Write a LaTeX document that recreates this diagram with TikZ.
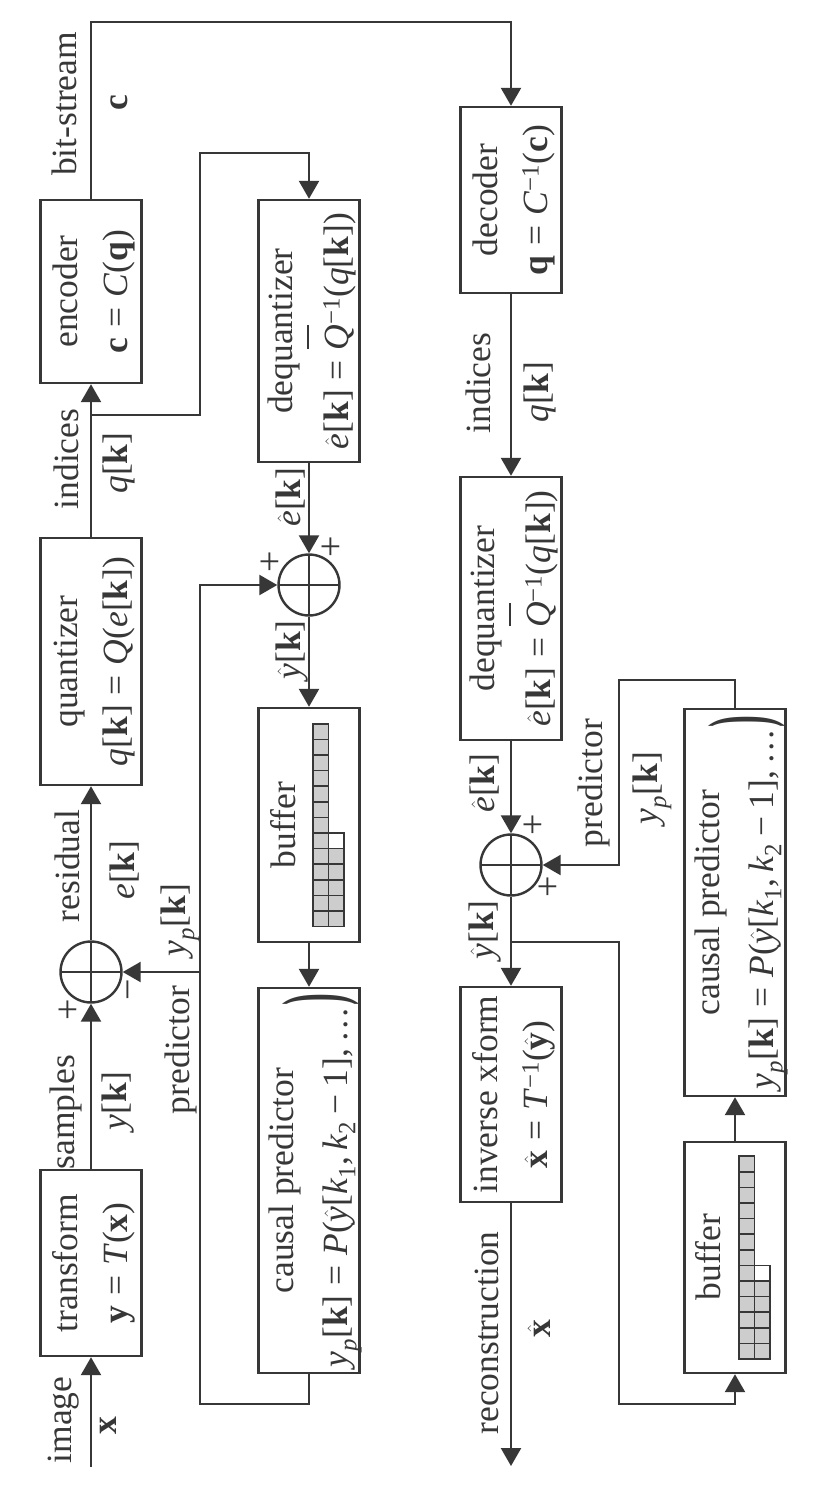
\documentclass[tikz,border=0pt]{standalone}
\usepackage{amsmath}
\usepackage{graphicx}
\usepackage[no-math]{fontspec}
\setmainfont{Liberation Serif}
\usetikzlibrary{arrows.meta}
\definecolor{ink}{RGB}{55,55,55}
\definecolor{cellgray}{RGB}{205,205,205}
\newcommand{\bk}{\textbf{k}}
\newcommand{\hatit}[1]{\ensuremath{\hat{\text{\textit{#1}}}}}
\newcommand{\hatbf}[1]{\ensuremath{\hat{\text{\textbf{#1}}}}}
\newcommand{\yp}{\ensuremath{\text{\textit{y}}_{\text{\textit{p}}}}}
\newcommand{\ksub}[1]{\ensuremath{\text{\textit{k}}_{\text{#1}}}}
\newcommand{\eqs}{\hspace{0.28em}=\hspace{0.28em}}
\newcommand{\minv}{\textsuperscript{−1}}
\newcommand{\Qbar}{\rlap{\hspace{0.04em}\smash{\rule[1.12em]{0.66em}{0.06em}}}\textit{Q}}
\newcommand{\boxline}[1]{\rule[-0.2em]{0pt}{1.05em}\smash{#1}}
\newcommand{\bigclose}{\hspace{0.05em}\smash{\raisebox{0.16em}{\scalebox{1}[2.4]{\textbf{)}}}}}
\begin{document}
\begin{tikzpicture}[x=1pt,y=-1pt,
  every node/.style={text=ink, font=\fontsize{35.5}{50}\selectfont},
  wire/.style={draw=ink, line width=2.4pt},
  arr/.style={wire, -{Triangle[length=18pt,width=20pt]}},
  blk/.style={draw=ink, line width=2.4pt, rotate=90, inner sep=0pt, minimum height=101pt, align=center},
  lbl/.style={rotate=90, inner sep=0pt},
  sign/.style={rotate=90, inner sep=0pt, font=\fontsize{38}{38}\selectfont},
  sumnode/.style={draw=ink, line width=2.4pt, circle, minimum size=61pt, inner sep=0pt,
    path picture={\draw[ink, line width=2.4pt] (path picture bounding box.north) -- (path picture bounding box.south)
      (path picture bounding box.west) -- (path picture bounding box.east);}},
  cell/.style={fill=cellgray, draw=ink, line width=1.6pt},
  emptycell/.style={fill=white, draw=ink, line width=1.6pt}
]
\fill[white] (0,0) rectangle (820,1486);
\useasboundingbox (0,0) rectangle (820,1486);

% ---------- blocks ----------
\node[blk, minimum width=186pt] (trans) at (91,1263)
  {\boxline{transform}\\\boxline{\textbf{y}\eqs\textit{T}(\textbf{x})}};
\node[blk, minimum width=247pt] (quant) at (91,661.5)
  {\boxline{quantizer}\\\boxline{\textit{q}[\bk]\eqs\textit{Q}(\textit{e}[\bk])}};
\node[blk, minimum width=183pt] (enc) at (91,291.5)
  {\boxline{encoder}\\\boxline{\textbf{c}\eqs\textit{C}(\textbf{q})}};
\node[blk, minimum width=262pt] (deq1) at (309,331)
  {\boxline{dequantizer}\\[6pt]\boxline{\hatit{e}[\bk]\eqs\Qbar\minv(\textit{q}[\bk])}};
\node[blk, minimum width=234pt] (buf1) at (309,825) {};
\node[blk, minimum width=385pt] (pred1) at (309,1180.5)
  {\boxline{causal predictor}\\[4pt]\boxline{\yp[\bk]\eqs\textit{P}(\hatit{y}[\ksub{1},\,\ksub{2}\hspace{0.2em}−\hspace{0.2em}1],\,\ldots\bigclose}};
\node[blk, minimum width=186pt] (dec) at (511,200)
  {\boxline{decoder}\\\boxline{\textbf{q}\eqs\textit{C}\minv(\textbf{c})}};
\node[blk, minimum width=263pt] (deq2) at (511,608.5)
  {\boxline{dequantizer}\\[6pt]\boxline{\hatit{e}[\bk]\eqs\Qbar\minv(\textit{q}[\bk])}};
\node[blk, minimum width=215pt] (inv) at (511,1094.5)
  {\boxline{inverse xform}\\\boxline{\hatbf{x}\eqs\textit{T}\minv(\hatbf{y})}};
\node[blk, minimum width=387pt] (pred2) at (735,902.5)
  {\boxline{causal predictor}\\[4pt]\boxline{\yp[\bk]\eqs\textit{P}(\hatit{y}[\ksub{1},\,\ksub{2}\hspace{0.2em}−\hspace{0.2em}1],\,\ldots\bigclose}};
\node[blk, minimum width=231pt] (buf2) at (735,1257.5) {};

% buffer grids
\foreach \b in {buf1,buf2} {
  \begin{scope}[shift={(\b.center)}]
    \foreach \i in {0,...,12}
      \path[cell] (4,{101.5-15.6*\i}) rectangle (19.6,{85.9-15.6*\i});
    \foreach \i in {0,...,4}
      \path[cell] (19.6,{101.5-15.6*\i}) rectangle (35.2,{85.9-15.6*\i});
    \path[emptycell] (19.6,23.5) rectangle (35.2,7.9);
  \end{scope}
}

% ---------- summing junctions ----------
\node[sumnode] (sum1) at (91,972) {};
\node[sumnode] (sum2) at (309,585) {};
\node[sumnode] (sum3) at (511,865) {};

% ---------- coordinates ----------
\coordinate (in) at (91,1467);
\coordinate (top) at (0,22);
\coordinate (qsplit) at (91,415);
\coordinate (qup) at (200,153);
\coordinate (fb1) at (200,1404);
\coordinate (fbj) at (200,972);
\coordinate (out) at (511,1466);
\coordinate (yj) at (511,942);
\coordinate (fb2) at (619,1404);
\coordinate (pp) at (619,680);

% ---------- connectors: encoder ----------
\draw[arr] (in) -- (trans.west);
\draw[arr] (trans.east) -- (sum1.south);
\draw[arr] (sum1.north) -- (quant.west);
\draw[arr] (quant.east) -- (enc.west);
\draw[arr] (enc.east) -- (enc.east |- top) -| (dec.east);
\draw[arr] (qsplit) -| (qup) -| (deq1.east);
\draw[arr] (deq1.west) -- (sum2.north);
\draw[arr] (sum2.south) -- (buf1.east);
\draw[arr] (buf1.west) -- (pred1.east);
\draw[arr] (pred1.west) |- (fb1) |- (sum2.west);
\draw[arr] (fbj) -- (sum1.east);

% ---------- connectors: decoder ----------
\draw[arr] (dec.west) -- (deq2.east);
\draw[arr] (deq2.west) -- (sum3.north);
\draw[arr] (sum3.south) -- (inv.east);
\draw[arr] (inv.west) -- (out);
\draw[arr] (yj) -| (fb2) -| (buf2.west);
\draw[arr] (buf2.east) -- (pred2.west);
\draw[arr] (pred2.east) |- (pp) |- (sum3.east);

% ---------- labels ----------
\node[lbl] (limg) at (64,1420) {image};
\node[lbl] (lx) at (108,1426) {\textbf{x}};
\node[lbl] (lsamp) at (66,1112) {samples};
\node[lbl] (lyk) at (118,1101) {\textit{y}[\bk]};
\node[sign] (p1) at (70,1010) {+};
\node[sign] (m1) at (134,990) {−};
\node[lbl] (lpred1) at (181,1050) {predictor};
\node[lbl] (lyp1) at (180,920) {\yp[\bk]};
\node[lbl] (lres) at (67,866) {residual};
\node[lbl] (lek) at (125,870) {\textit{e}[\bk]};
\node[lbl] (lind1) at (66,459) {indices};
\node[lbl] (lqk1) at (119,463) {\textit{q}[\bk]};
\node[lbl] (lbits) at (64,104) {bit-stream};
\node[lbl] (lc) at (119,103) {\textbf{c}};
\node[lbl] (leh1) at (291,497) {\hatit{e}[\bk]};
\node[sign] (p2) at (272,562) {+};
\node[sign] (p3) at (333,547) {+};
\node[lbl] (lyh1) at (292,650) {\hatit{y}[\bk]};
\node[lbl] (lbuf1) at (283,825) {buffer};
\node[lbl] (lind2) at (478,383) {indices};
\node[lbl] (lqk2) at (540,392) {\textit{q}[\bk]};
\node[lbl] (leh2) at (485,783) {\hatit{e}[\bk]};
\node[sign] (p4) at (535,825) {+};
\node[sign] (p5) at (550,887) {+};
\node[lbl] (lpred2) at (594,783) {predictor};
\node[lbl] (lyp2) at (652,788) {\yp[\bk]};
\node[lbl] (lyh2) at (485,930) {\hatit{y}[\bk]};
\node[lbl] (lrec) at (487,1333) {reconstruction};
\node[lbl] (lxh) at (539,1329) {\hatbf{x}};
\node[lbl] (lbuf2) at (708,1257) {buffer};
\end{tikzpicture}
\end{document}
